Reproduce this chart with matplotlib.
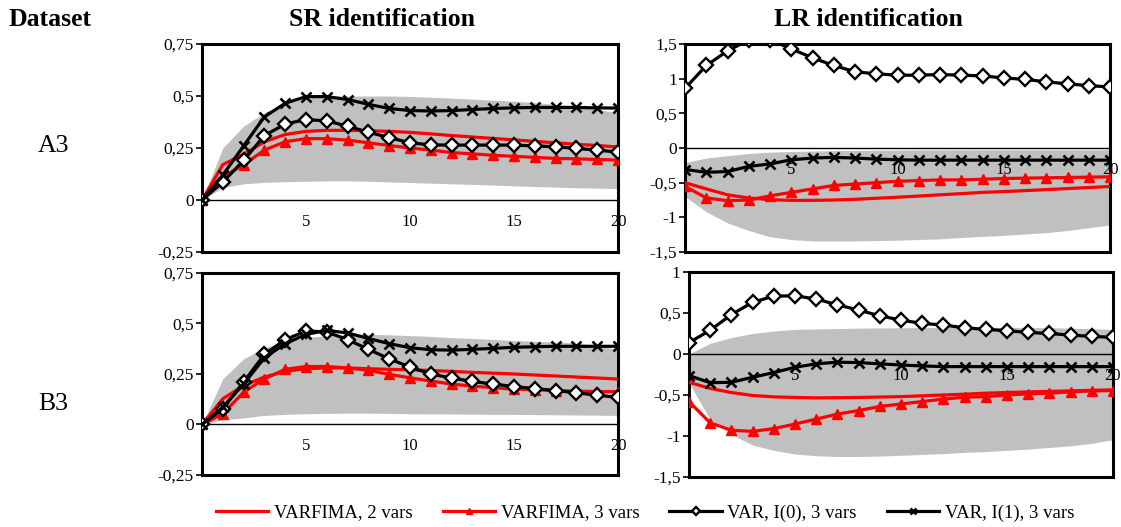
"""Impulse responses, SR vs LR identification, datasets A3 and B3."""

import matplotlib
matplotlib.use("Agg")
import matplotlib.pyplot as plt

plt.rcParams["font.family"] = ["Liberation Serif", "DejaVu Serif"]

RED, BLK, BAND = "#FF0000", "#000000", "#C0C0C0"

T = list(range(21))

# SR identification, dataset A3
sr_a3_v2 = [0, 0.17, 0.22, 0.28, 0.315, 0.33, 0.335, 0.335, 0.333, 0.33, 0.325,
            0.318, 0.31, 0.303, 0.296, 0.289, 0.282, 0.275, 0.268, 0.262, 0.255]
sr_a3_v3 = [0, 0.11, 0.17, 0.24, 0.28, 0.295, 0.295, 0.288, 0.275, 0.262, 0.25,
            0.24, 0.228, 0.222, 0.215, 0.21, 0.205, 0.2, 0.198, 0.195, 0.192]
sr_a3_i0 = [0, 0.086, 0.19, 0.31, 0.365, 0.387, 0.38, 0.355, 0.326, 0.30, 0.275,
            0.265, 0.264, 0.264, 0.264, 0.264, 0.26, 0.256, 0.248, 0.24, 0.23]
sr_a3_i1 = [0, 0.12, 0.26, 0.40, 0.465, 0.497, 0.497, 0.483, 0.46, 0.44, 0.43,
            0.428, 0.43, 0.435, 0.44, 0.443, 0.445, 0.445, 0.445, 0.443, 0.442]
sr_a3_hi = [0, 0.25, 0.355, 0.42, 0.46, 0.49, 0.50, 0.50, 0.50, 0.50, 0.498,
            0.494, 0.49, 0.485, 0.48, 0.475, 0.468, 0.46, 0.45, 0.435, 0.42]
sr_a3_lo = [0, 0.06, 0.078, 0.085, 0.088, 0.09, 0.092, 0.092, 0.09, 0.087, 0.084,
            0.081, 0.078, 0.075, 0.072, 0.068, 0.065, 0.062, 0.059, 0.057, 0.055]

# LR identification, dataset A3
lr_a3_v2 = [-0.50, -0.59, -0.675, -0.72, -0.745, -0.755, -0.755, -0.75, -0.74, -0.725, -0.71,
            -0.693, -0.675, -0.658, -0.64, -0.628, -0.615, -0.6, -0.585, -0.57, -0.555]
lr_a3_v3 = [-0.555, -0.72, -0.76, -0.75, -0.69, -0.64, -0.59, -0.54, -0.52, -0.50, -0.48,
            -0.47, -0.46, -0.46, -0.45, -0.44, -0.435, -0.43, -0.425, -0.42, -0.415]
lr_a3_i0 = [0.86, 1.19, 1.40, 1.56, 1.56, 1.43, 1.30, 1.19, 1.10, 1.07, 1.05,
            1.05, 1.06, 1.05, 1.04, 1.01, 0.99, 0.955, 0.925, 0.90, 0.88]
lr_a3_i1 = [-0.31, -0.35, -0.34, -0.265, -0.23, -0.17, -0.145, -0.135, -0.145, -0.16, -0.17,
            -0.175, -0.175, -0.175, -0.175, -0.175, -0.175, -0.175, -0.175, -0.175, -0.175]
lr_a3_hi = [-0.21, -0.145, -0.11, -0.08, -0.06, -0.05, -0.043, -0.038, -0.035, -0.032, -0.03,
            -0.028, -0.027, -0.026, -0.025, -0.025, -0.025, -0.025, -0.025, -0.025, -0.025]
lr_a3_lo = [-0.70, -0.92, -1.08, -1.19, -1.28, -1.32, -1.34, -1.34, -1.34, -1.335, -1.33,
            -1.32, -1.31, -1.29, -1.275, -1.26, -1.24, -1.22, -1.19, -1.15, -1.11]

# SR identification, dataset B3
sr_b3_v2 = [0, 0.127, 0.193, 0.235, 0.263, 0.276, 0.28, 0.28, 0.276, 0.273, 0.271,
            0.267, 0.263, 0.258, 0.254, 0.25, 0.245, 0.24, 0.235, 0.23, 0.225]
sr_b3_v3 = [0, 0.053, 0.16, 0.226, 0.273, 0.287, 0.287, 0.28, 0.268, 0.248, 0.231,
            0.215, 0.20, 0.19, 0.182, 0.175, 0.172, 0.168, 0.165, 0.163, 0.163]
sr_b3_i0 = [0, 0.078, 0.21, 0.347, 0.42, 0.463, 0.458, 0.42, 0.372, 0.325, 0.284,
            0.25, 0.23, 0.213, 0.20, 0.188, 0.178, 0.168, 0.157, 0.145, 0.134]
sr_b3_i1 = [0, 0.086, 0.20, 0.33, 0.40, 0.446, 0.466, 0.453, 0.426, 0.40, 0.38,
            0.37, 0.368, 0.372, 0.377, 0.382, 0.385, 0.387, 0.387, 0.387, 0.387]
sr_b3_hi = [0, 0.226, 0.325, 0.38, 0.41, 0.43, 0.44, 0.445, 0.446, 0.444, 0.44,
            0.436, 0.43, 0.426, 0.421, 0.416, 0.412, 0.408, 0.403, 0.39, 0.37]
sr_b3_lo = [0, 0.023, 0.033, 0.045, 0.05, 0.053, 0.055, 0.056, 0.056, 0.055, 0.053,
            0.052, 0.052, 0.051, 0.05, 0.05, 0.049, 0.048, 0.047, 0.046, 0.045]

# LR identification, dataset B3
lr_b3_v2 = [-0.345, -0.42, -0.47, -0.506, -0.523, -0.53, -0.535, -0.533, -0.53, -0.525, -0.52,
            -0.51, -0.50, -0.49, -0.478, -0.47, -0.462, -0.456, -0.45, -0.443, -0.437]
lr_b3_v3 = [-0.58, -0.84, -0.93, -0.944, -0.91, -0.855, -0.794, -0.733, -0.69, -0.64, -0.61,
            -0.58, -0.55, -0.527, -0.52, -0.50, -0.486, -0.478, -0.462, -0.45, -0.446]
lr_b3_i0 = [0.138, 0.29, 0.48, 0.63, 0.705, 0.71, 0.67, 0.60, 0.535, 0.466, 0.413,
            0.373, 0.353, 0.32, 0.30, 0.284, 0.263, 0.25, 0.23, 0.215, 0.203]
lr_b3_i1 = [-0.263, -0.35, -0.345, -0.284, -0.227, -0.162, -0.12, -0.10, -0.105, -0.12, -0.134,
            -0.146, -0.154, -0.154, -0.154, -0.154, -0.154, -0.154, -0.154, -0.154, -0.154]
lr_b3_hi = [0, 0.13, 0.2, 0.25, 0.28, 0.30, 0.305, 0.31, 0.315, 0.318, 0.32,
            0.322, 0.323, 0.324, 0.325, 0.325, 0.324, 0.32, 0.315, 0.308, 0.30]
lr_b3_lo = [-0.35, -0.80, -0.98, -1.11, -1.175, -1.22, -1.24, -1.25, -1.25, -1.245, -1.235,
            -1.225, -1.215, -1.2, -1.19, -1.175, -1.16, -1.14, -1.12, -1.09, -1.045]

SR_TICKS = [-0.25, 0, 0.25, 0.5, 0.75]
LR_TICKS_A = [-1.5, -1, -0.5, 0, 0.5, 1, 1.5]
LR_TICKS_B = [-1.5, -1, -0.5, 0, 0.5, 1]
X_LABELS = [5, 10, 15, 20]

LABELS = ["VARFIMA, 2 vars", "VARFIMA, 3 vars", "VAR, I(0), 3 vars", "VAR, I(1), 3 vars"]


def fmt(v):
    return f"{v:g}".replace(".", ",")      # decimal comma, as in the source


def panel(ax, v2, v3, i0, i1, lo, hi, yticks):
    ax.fill_between(T, lo, hi, color=BAND, lw=0, zorder=1)
    ax.axhline(0, color=BLK, lw=1.0, zorder=2)
    ax.plot(T, v2, color=RED, lw=2.3, zorder=3, label=LABELS[0])
    ax.plot(T, v3, color=RED, lw=2.3, marker="^", ms=7.5, zorder=4, label=LABELS[1])
    ax.plot(T, i0, color=BLK, lw=2.3, marker="D", ms=6.8, mfc="white", mec=BLK,
            mew=1.7, zorder=5, label=LABELS[2])
    ax.plot(T, i1, color=BLK, lw=2.3, marker="x", ms=7.5, mew=1.9, zorder=6,
            label=LABELS[3])
    ax.set_xlim(0, 20)
    ax.set_ylim(yticks[0], yticks[-1])
    ax.set_yticks(yticks)
    ax.set_yticklabels([fmt(v) for v in yticks], fontsize=12.5)
    ax.set_xticks([])
    ax.tick_params(axis="y", length=4, width=1.2, pad=2)
    for s in ax.spines.values():
        s.set_linewidth(2.2)
    for t in X_LABELS:                         # Excel-style labels hang off the zero line
        ax.annotate(str(t), xy=(t, 0), xytext=(0, -10), textcoords="offset points",
                    ha="center", va="top", fontsize=12, zorder=7)


fig = plt.figure(figsize=(11.21, 5.27), dpi=100)
ax1 = fig.add_axes([0.1802, 0.5218, 0.3711, 0.3947])
ax2 = fig.add_axes([0.6111, 0.5218, 0.3791, 0.3947])
ax3 = fig.add_axes([0.1802, 0.0987, 0.3711, 0.3833])
ax4 = fig.add_axes([0.6146, 0.0949, 0.3782, 0.3890])

panel(ax1, sr_a3_v2, sr_a3_v3, sr_a3_i0, sr_a3_i1, sr_a3_lo, sr_a3_hi, SR_TICKS)
panel(ax2, lr_a3_v2, lr_a3_v3, lr_a3_i0, lr_a3_i1, lr_a3_lo, lr_a3_hi, LR_TICKS_A)
panel(ax3, sr_b3_v2, sr_b3_v3, sr_b3_i0, sr_b3_i1, sr_b3_lo, sr_b3_hi, SR_TICKS)
panel(ax4, lr_b3_v2, lr_b3_v3, lr_b3_i0, lr_b3_i1, lr_b3_lo, lr_b3_hi, LR_TICKS_B)

fig.text(9 / 1121, 1 - 20 / 527, "Dataset", fontsize=18.5, fontweight="bold",
         ha="left", va="center")
fig.text(382 / 1121, 1 - 20 / 527, "SR identification", fontsize=18.5,
         fontweight="bold", ha="center", va="center")
fig.text(868 / 1121, 1 - 20 / 527, "LR identification", fontsize=18.5,
         fontweight="bold", ha="center", va="center")
fig.text(53 / 1121, 1 - 146 / 527, "A3", fontsize=18.5, ha="center", va="center")
fig.text(53 / 1121, 1 - 404 / 527, "B3", fontsize=18.5, ha="center", va="center")

h, l = ax1.get_legend_handles_labels()
fig.legend(h, l, loc="center", bbox_to_anchor=(645 / 1121, 1 - 513 / 527), ncol=4,
           frameon=False, fontsize=13.5, markerscale=0.6, handlelength=2.8,
           columnspacing=1.6, handletextpad=0.3)

fig.savefig("out.png", dpi=100)
